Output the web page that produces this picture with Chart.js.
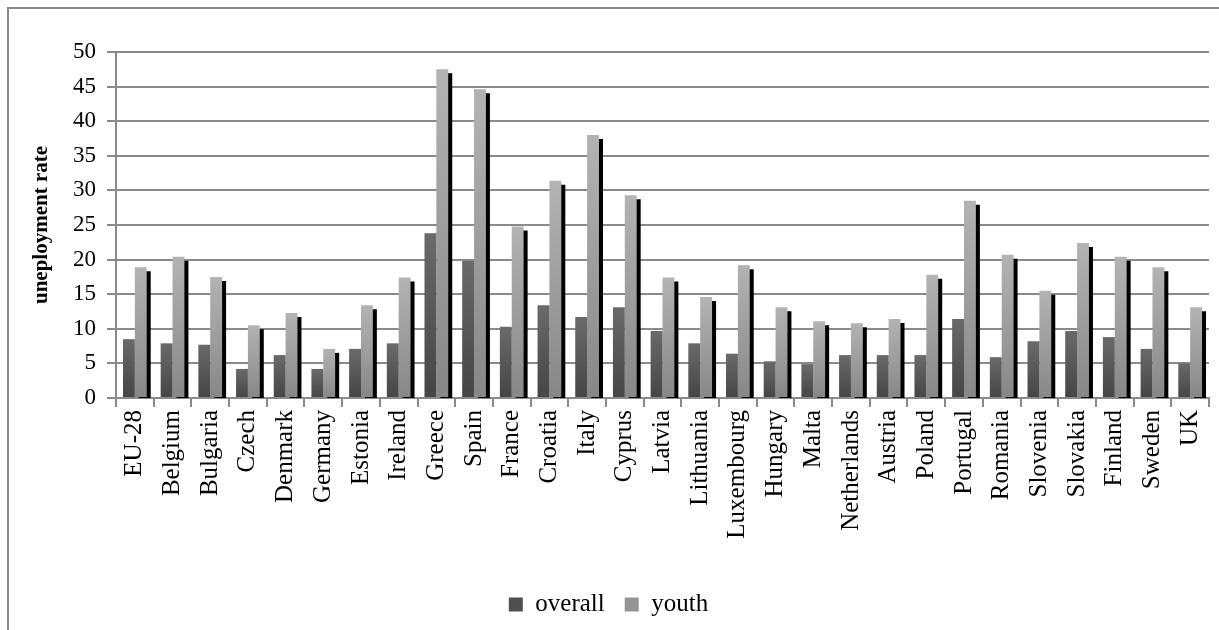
<!DOCTYPE html>
<html>
<head>
<meta charset="utf-8">
<script src="https://cdn.jsdelivr.net/npm/chart.js@4/dist/chart.umd.min.js"></script>
<style>
	html, body { margin: 0; padding: 0; background: #fff; overflow: hidden; }
	#wrap { position: relative; width: 1219px; height: 630px; }
	#frame { position: absolute; left: 7px; top: 7px; width: 1240px; height: 660px; border: 2px solid #8a8a8a; box-sizing: border-box; }
	#chart { position: absolute; left: 0; top: 0; }
</style>
</head>
<body>
<div id="wrap">
	<div id="frame"></div>
	<canvas id="chart" width="1219" height="630"></canvas>
</div>
<script>
const categories = ['EU-28', 'Belgium', 'Bulgaria', 'Czech', 'Denmark', 'Germany', 'Estonia', 'Ireland', 'Greece', 'Spain', 'France', 'Croatia', 'Italy', 'Cyprus', 'Latvia', 'Lithuania', 'Luxembourg', 'Hungary', 'Malta', 'Netherlands', 'Austria', 'Poland', 'Portugal', 'Romania', 'Slovenia', 'Slovakia', 'Finland', 'Sweden', 'UK'];
const overall = [8.5, 7.9, 7.7, 4.2, 6.2, 4.2, 7.1, 7.9, 23.8, 19.8, 10.3, 13.4, 11.7, 13.1, 9.7, 7.9, 6.4, 5.3, 4.9, 6.2, 6.2, 6.2, 11.4, 5.9, 8.2, 9.7, 8.8, 7.1, 5.0];
const youth = [18.9, 20.4, 17.5, 10.5, 12.3, 7.1, 13.4, 17.4, 47.5, 44.6, 24.8, 31.4, 38.0, 29.3, 17.4, 14.6, 19.2, 13.1, 11.1, 10.8, 11.4, 17.8, 28.5, 20.7, 15.5, 22.4, 20.4, 18.9, 13.1];
const yTicks = [0, 5, 10, 15, 20, 25, 30, 35, 40, 45, 50];

const FONT = "'Liberation Serif', 'Times New Roman', serif";
const GRID = '#8a8a8a';

// vertical gradient per bar, light at the top, dark at the base
function barGradient(top, bottom, fallback) {
	return (ctx) => {
		const chart = ctx.chart;
		if (ctx.type !== 'data' || !chart.chartArea) return fallback;
		const y = chart.scales.y;
		const yTop = y.getPixelForValue(ctx.raw);
		const yBase = y.getPixelForValue(0);
		if (!isFinite(yTop) || yBase - yTop < 1) return fallback;
		const g = chart.ctx.createLinearGradient(0, yTop, 0, yBase);
		g.addColorStop(0, top);
		g.addColorStop(1, bottom);
		return g;
	};
}

// hard drop shadow behind the youth bars
const shadowPlugin = {
	id: 'barShadow',
	beforeDatasetDraw(chart, args) {
		if (args.index !== 1) return;
		const c = chart.ctx;
		c.save();
		c.shadowColor = '#000';
		c.shadowBlur = 0;
		c.shadowOffsetX = 4;
		c.shadowOffsetY = 4;
	},
	afterDatasetDraw(chart, args) {
		if (args.index !== 1) return;
		chart.ctx.restore();
	}
};

const legendColors = ['#4f4f4f', '#949494'];

new Chart(document.getElementById('chart').getContext('2d'), {
	type: 'bar',
	data: {
		labels: categories,
		datasets: [
			{ label: 'overall', data: overall, backgroundColor: barGradient('#6a6a6a', '#454545', '#555'), borderWidth: 0 },
			{ label: 'youth', data: youth, backgroundColor: barGradient('#b3b3b3', '#878787', '#999'), borderWidth: 0, clip: 0 }
		]
	},
	options: {
		responsive: false,
		animation: false,
		events: [],
		layout: { padding: { left: 8, top: 52, right: 10, bottom: 3 } },
		datasets: { bar: { categoryPercentage: 0.63, barPercentage: 1.0 } },
		plugins: {
			tooltip: { enabled: false },
			legend: {
				position: 'bottom',
				labels: {
					font: { family: FONT, size: 25 },
					color: '#000',
					boxWidth: 14,
					boxHeight: 14,
					padding: 20,
					generateLabels: (chart) => chart.data.datasets.map((ds, i) => ({
						text: ds.label,
						fillStyle: legendColors[i],
						strokeStyle: legendColors[i],
						lineWidth: 0,
						hidden: false,
						datasetIndex: i,
						fontColor: '#000'
					}))
				}
			}
		},
		scales: {
			x: {
				grid: { drawOnChartArea: false, drawTicks: true, tickLength: 9, color: GRID, lineWidth: 2 },
				border: { display: true, color: GRID, width: 2 },
				ticks: {
					autoSkip: false,
					maxRotation: 90,
					minRotation: 90,
					padding: 3,
					color: '#000',
					font: { family: FONT, size: 25, lineHeight: 1 }
				},
				afterFit: (scale) => { scale.height = 174; }
			},
			y: {
				min: 0,
				max: 50,
				afterBuildTicks: (scale) => { scale.ticks = yTicks.map(v => ({ value: v })); },
				grid: { color: GRID, lineWidth: 2, tickLength: 9, drawTicks: true },
				border: { display: true, color: GRID, width: 2 },
				ticks: { padding: 11, color: '#000', font: { family: FONT, size: 23 } },
				title: {
					display: true,
					text: 'uneployment rate',
					color: '#000',
					font: { family: FONT, size: 21, weight: 'bold' },
					padding: { top: 21, bottom: 0 }
				},
				afterFit: (scale) => { scale.width = 108; }
			}
		}
	},
	plugins: [shadowPlugin]
});
</script>
</body>
</html>
